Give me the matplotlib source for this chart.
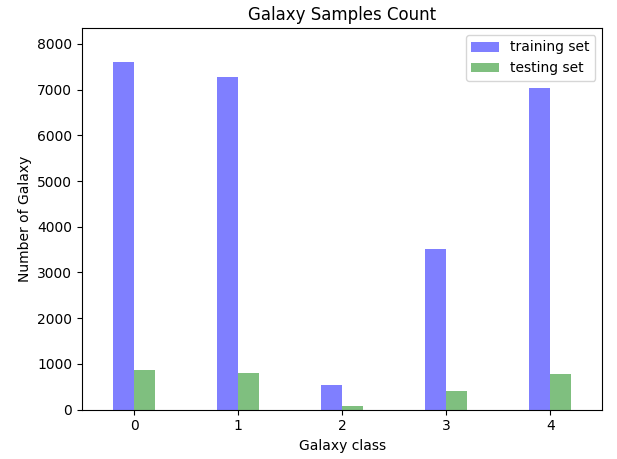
import matplotlib
matplotlib.use("Agg")
import matplotlib.pyplot as plt
import numpy as np

classes = [0, 1, 2, 3, 4]
training = [7600, 7280, 530, 3510, 7030]
testing = [858, 805, 77, 398, 783]

fig = plt.figure(figsize=(6.17, 4.59), dpi=100)
ax = fig.add_axes([82 / 617, 1 - 409.5 / 459, (602.3 - 82) / 617, (409.5 - 28) / 459])

x = np.array(classes)
w = 0.2
ax.bar(x - w / 2, training, w, color='blue', alpha=0.5, label='training set')
ax.bar(x + w / 2, testing, w, color='green', alpha=0.5, label='testing set')

ax.set_xlim(-0.5, 4.5)
ax.set_ylim(0, 8350)
ax.set_xticks(x)
ax.set_xticklabels([str(c) for c in classes])
ax.set_xlabel('Galaxy class')
ax.set_ylabel('Number of Galaxy')
ax.set_title('Galaxy Samples Count')
ax.legend(loc='upper right')

fig.savefig('out.png', dpi=100)
